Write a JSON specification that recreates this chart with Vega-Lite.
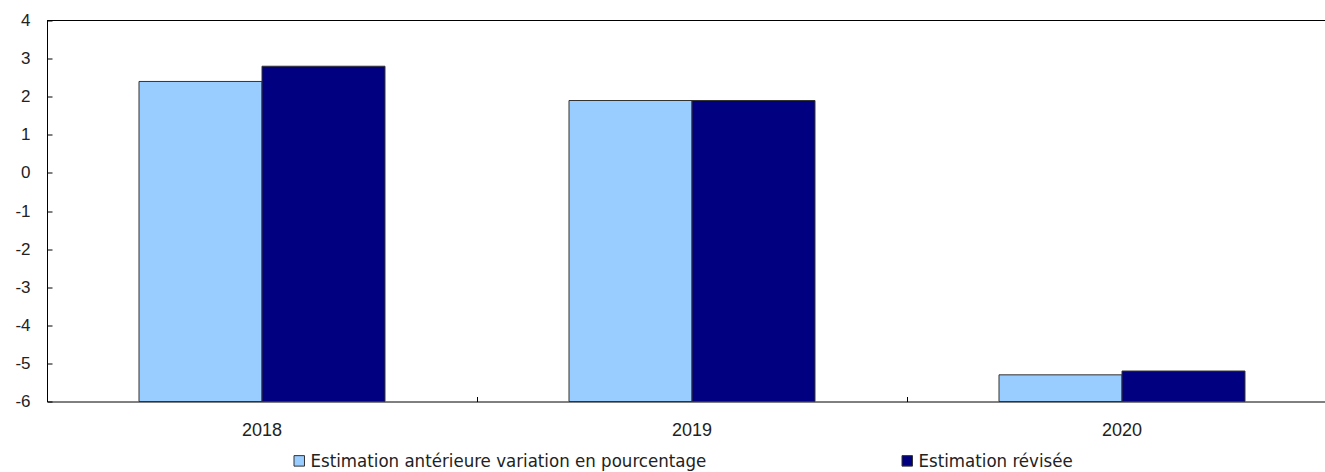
{
  "$schema": "https://vega.github.io/schema/vega-lite/v6.json",
  "autosize": {"type": "none"},
  "padding": {"left": 47, "top": 20.5, "right": 0, "bottom": 70.5},
  "width": 1278,
  "height": 381,
  "background": "white",
  "title": {
    "text": "Variation en pourcentage, en termes réels (PIB)",
    "anchor": "start",
    "frame": "group",
    "font": "Liberation Sans",
    "fontSize": 20,
    "fontWeight": "normal",
    "color": "#222222",
    "baseline": "alphabetic",
    "dx": -46,
    "dy": 8,
    "offset": 20
  },
  "data": {
    "values": [
      {"annee": "2018", "serie": "Estimation antérieure variation en pourcentage", "valeur": 2.4},
      {"annee": "2018", "serie": "Estimation révisée", "valeur": 2.8},
      {"annee": "2019", "serie": "Estimation antérieure variation en pourcentage", "valeur": 1.9},
      {"annee": "2019", "serie": "Estimation révisée", "valeur": 1.9},
      {"annee": "2020", "serie": "Estimation antérieure variation en pourcentage", "valeur": -5.3},
      {"annee": "2020", "serie": "Estimation révisée", "valeur": -5.2}
    ]
  },
  "config": {
    "view": {"stroke": null},
    "axis": {"labelFont": "Liberation Sans", "labelColor": "#222222", "domainColor": "#000000", "tickColor": "#000000", "grid": false}
  },
  "resolve": {"axis": {"x": "independent", "y": "independent"}},
  "layer": [
    {
      "mark": {"type": "bar", "stroke": "#333333", "strokeWidth": 1},
      "encoding": {
        "x": {
          "field": "annee",
          "type": "nominal",
          "title": null,
          "scale": {"range": [0, 1290], "paddingInner": 0, "paddingOuter": 0},
          "axis": {
            "orient": "bottom",
            "labelAngle": 0,
            "labelFontSize": 18,
            "ticks": false,
            "labelPadding": 20,
            "domainWidth": 1
          }
        },
        "xOffset": {
          "field": "serie",
          "type": "nominal",
          "scale": {
            "domain": ["Estimation antérieure variation en pourcentage", "Estimation révisée"],
            "paddingInner": 0,
            "paddingOuter": 0.748
          }
        },
        "y": {
          "field": "valeur",
          "type": "quantitative",
          "title": null,
          "scale": {"domain": [-6, 4], "nice": false, "zero": false},
          "axis": {
            "orient": "left",
            "values": [-6, -5, -4, -3, -2, -1, 0, 1, 2, 3, 4],
            "labelExpr": "toString(datum.value)",
            "labelFontSize": 17,
            "ticks": false,
            "labelPadding": 17,
            "domainWidth": 1
          }
        },
        "y2": {"datum": -6},
        "color": {
          "field": "serie",
          "type": "nominal",
          "scale": {
            "domain": ["Estimation antérieure variation en pourcentage", "Estimation révisée"],
            "range": ["#99CCFF", "#000080"]
          },
          "legend": {
            "orient": "none",
            "legendX": 243,
            "legendY": 431,
            "direction": "horizontal",
            "columns": 2,
            "title": null,
            "symbolType": "square",
            "symbolSize": 110,
            "symbolStrokeColor": "#333333",
            "symbolStrokeWidth": 1,
            "labelFont": "Liberation Sans Narrow, DejaVu Sans Condensed, sans-serif",
            "labelFontSize": 18.5,
            "labelColor": "#222222",
            "labelOffset": 2,
            "labelLimit": 600,
            "columnPadding": 191
          }
        }
      }
    },
    {
      "mark": {"type": "rule", "color": "#000000", "strokeWidth": 1},
      "encoding": {
        "y": {
          "datum": 4,
          "axis": {
            "orient": "left",
            "offset": -5,
            "values": [-6, -5, -4, -3, -2, -1, 0, 1, 2, 3, 4],
            "labels": false,
            "domain": false,
            "ticks": true,
            "tickSize": 5,
            "title": null
          }
        }
      }
    },
    {
      "mark": {"type": "tick", "opacity": 0},
      "encoding": {
        "x": {
          "field": "annee",
          "type": "nominal",
          "axis": {
            "orient": "bottom",
            "offset": -5,
            "bandPosition": 0,
            "labels": false,
            "domain": false,
            "ticks": true,
            "tickSize": 5,
            "title": null
          }
        },
        "y": {"datum": 4, "axis": null}
      }
    }
  ]
}
